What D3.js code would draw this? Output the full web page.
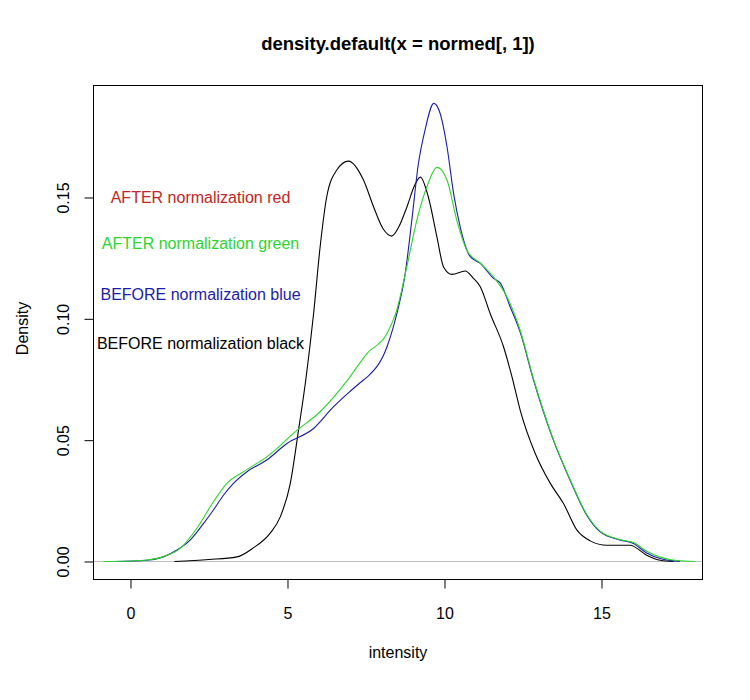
<!DOCTYPE html>
<html>
<head>
<meta charset="utf-8">
<script src="https://cdn.jsdelivr.net/npm/d3@7"></script>
<style>
  body { margin: 0; background: #fff; }
  text { font-family: "Liberation Sans", Arial, Helvetica, sans-serif; }
</style>
</head>
<body>
<div id="chart"></div>
<script>
// density curves, [intensity, density]
const blackCurve = [
  [1.4, 0], [2.5, 0.0008], [3.39, 0.0019], [3.9, 0.0055], [4.45, 0.0117], [4.77, 0.0184],
  [5.09, 0.0322], [5.35, 0.054], [5.58, 0.0746], [5.83, 0.102], [6.04, 0.1297], [6.25, 0.1503],
  [6.57, 0.1613], [6.94, 0.165], [7.42, 0.1572], [7.74, 0.1462], [8.05, 0.137], [8.32, 0.1341],
  [8.55, 0.138], [8.8, 0.146], [9.05, 0.155], [9.23, 0.1584], [9.49, 0.150], [9.76, 0.1337],
  [9.97, 0.1214], [10.24, 0.1183], [10.66, 0.1197], [10.9, 0.117], [11.14, 0.1132], [11.46, 0.102],
  [11.88, 0.0885], [12.15, 0.0761], [12.41, 0.0624], [12.89, 0.0445], [13.37, 0.0322],
  [13.79, 0.0239], [14.22, 0.0129], [14.64, 0.0085], [15.17, 0.0067], [15.91, 0.0067],
  [16.44, 0.0026], [16.87, 0.0005], [17.3, 0]
];

const blueCurve = [
  [-0.49, 0], [0.52, 0.0005], [1.05, 0.0019], [1.48, 0.0047], [1.9, 0.0088], [2.33, 0.0157],
  [2.64, 0.0212], [2.96, 0.0273], [3.28, 0.0322], [3.71, 0.037], [4.34, 0.0418], [4.98, 0.0486],
  [5.83, 0.0548], [6.46, 0.0637], [6.94, 0.0695], [7.42, 0.0748], [7.58, 0.0765], [8.17, 0.0885],
  [8.48, 0.102], [8.75, 0.1187], [8.96, 0.1407], [9.17, 0.164], [9.38, 0.1778], [9.66, 0.1888],
  [9.86, 0.1847], [10.08, 0.1709], [10.29, 0.1517], [10.5, 0.1379], [10.82, 0.1256], [11.14, 0.1229],
  [11.56, 0.1167], [11.78, 0.1147], [12.09, 0.105], [12.41, 0.0945], [12.83, 0.075], [13.47, 0.0499],
  [14.0, 0.0335], [14.53, 0.0191], [14.96, 0.0122], [15.6, 0.0088], [16.02, 0.0074],
  [16.44, 0.0035], [16.87, 0.0012], [17.5, 0]
];

const greenCurve = [
  [-0.86, 0], [0.0, 0.0002], [0.52, 0.0006], [1.05, 0.002], [1.58, 0.0054], [2.11, 0.0136],
  [2.64, 0.0246], [3.07, 0.0322], [3.6, 0.037], [4.34, 0.0431], [5.3, 0.054], [6.04, 0.0617],
  [6.9, 0.0745], [7.53, 0.0857], [8.17, 0.094], [8.48, 0.1036], [8.8, 0.1214], [9.12, 0.1407],
  [9.44, 0.1544], [9.76, 0.1624], [10.08, 0.1572], [10.39, 0.1407], [10.71, 0.1283], [11.14, 0.1229],
  [11.56, 0.1173], [11.99, 0.109], [12.41, 0.0953], [12.83, 0.0755], [13.47, 0.0502],
  [14.0, 0.0338], [14.53, 0.0194], [14.96, 0.0125], [15.6, 0.009], [16.02, 0.0078],
  [16.44, 0.0042], [16.87, 0.0018], [17.4, 0.0004], [17.98, 0]
];

const xTicks = [0, 5, 10, 15];
const yTicks = [0, 0.05, 0.10, 0.15];

const labelTexts = [
  "AFTER normalization red",
  "AFTER normalization green",
  "BEFORE normalization blue",
  "BEFORE normalization black"
];
const labelColors = ["#c42424", "#2ed42e", "#1c1ca8", "#000000"];

const margin = {top: 85.5, left: 93.5};
const width = 609;
const height = 494;

const svg = d3.select("#chart").append("svg")
    .attr("width", 750)
    .attr("height", 700)
    .style("background", "#fff");

const g = svg.append("g")
    .attr("transform", `translate(${margin.left},${margin.top})`);

const xScale = d3.scaleLinear().domain([-1.178, 18.217]).range([0, width]);
const yScale = d3.scaleLinear().domain([-0.00742, 0.19615]).range([height, 0]);

// zero reference line
g.append("line")
    .attr("x1", 0).attr("x2", width)
    .attr("y1", Math.round(yScale(0)) - 0.5 + 0.5)
    .attr("y2", Math.round(yScale(0)) - 0.5 + 0.5)
    .attr("stroke", "#bebebe")
    .attr("stroke-width", 1);

const line = d3.line()
    .x(d => xScale(d[0]))
    .y(d => yScale(d[1]))
    .curve(d3.curveMonotoneX);

const series = [
  {data: blackCurve, color: "#000000"},
  {data: blueCurve, color: "#1c1ca8"},
  {data: greenCurve, color: "#2ed42e"}
];

g.selectAll(".curve")
    .data(series)
  .enter().append("path")
    .attr("class", "curve")
    .attr("d", d => line(d.data))
    .attr("fill", "none")
    .attr("stroke", d => d.color)
    .attr("stroke-width", 1.1);

// box
g.append("rect")
    .attr("width", width)
    .attr("height", height)
    .attr("fill", "none")
    .attr("stroke", "#000")
    .attr("stroke-width", 1);

const xAxis = d3.axisBottom(xScale)
    .tickValues(xTicks)
    .tickFormat(d3.format("d"))
    .tickSize(9)
    .tickPadding(19);

g.append("g")
    .attr("transform", `translate(0,${height})`)
    .call(xAxis)
    .call(a => a.select(".domain").remove())
    .call(a => a.selectAll("text").style("font-size", "16px").attr("fill", "#000"));

const yAxis = d3.axisLeft(yScale)
    .tickValues(yTicks)
    .tickFormat(d3.format(".2f"))
    .tickSize(9);

g.append("g")
    .call(yAxis)
    .call(a => a.select(".domain").remove())
    .call(a => a.selectAll("text")
        .attr("x", 0)
        .attr("y", -24.5)
        .attr("dy", null)
        .attr("transform", "rotate(-90)")
        .attr("text-anchor", "middle")
        .style("font-size", "16px")
        .attr("fill", "#000"));

// title and axis titles
svg.append("text")
    .attr("x", margin.left + width / 2)
    .attr("y", 50)
    .attr("text-anchor", "middle")
    .style("font-size", "18.5px")
    .style("font-weight", "bold")
    .text("density.default(x = normed[, 1])");

svg.append("text")
    .attr("x", margin.left + width / 2)
    .attr("y", 658)
    .attr("text-anchor", "middle")
    .style("font-size", "16px")
    .text("intensity");

svg.append("text")
    .attr("transform", `translate(27.5,${margin.top + height / 2 - 4}) rotate(-90)`)
    .attr("text-anchor", "middle")
    .style("font-size", "16px")
    .text("Density");

// in-plot annotations
const labelX = 2.23;
const labelY = [0.15, 0.131, 0.110, 0.090];

g.selectAll(".annotation")
    .data(labelTexts)
  .enter().append("text")
    .attr("class", "annotation")
    .attr("x", xScale(labelX))
    .attr("y", (d, i) => yScale(labelY[i]))
    .attr("dy", "0.36em")
    .attr("text-anchor", "middle")
    .style("font-size", "16px")
    .attr("fill", (d, i) => labelColors[i])
    .text(d => d);
</script>
</body>
</html>
